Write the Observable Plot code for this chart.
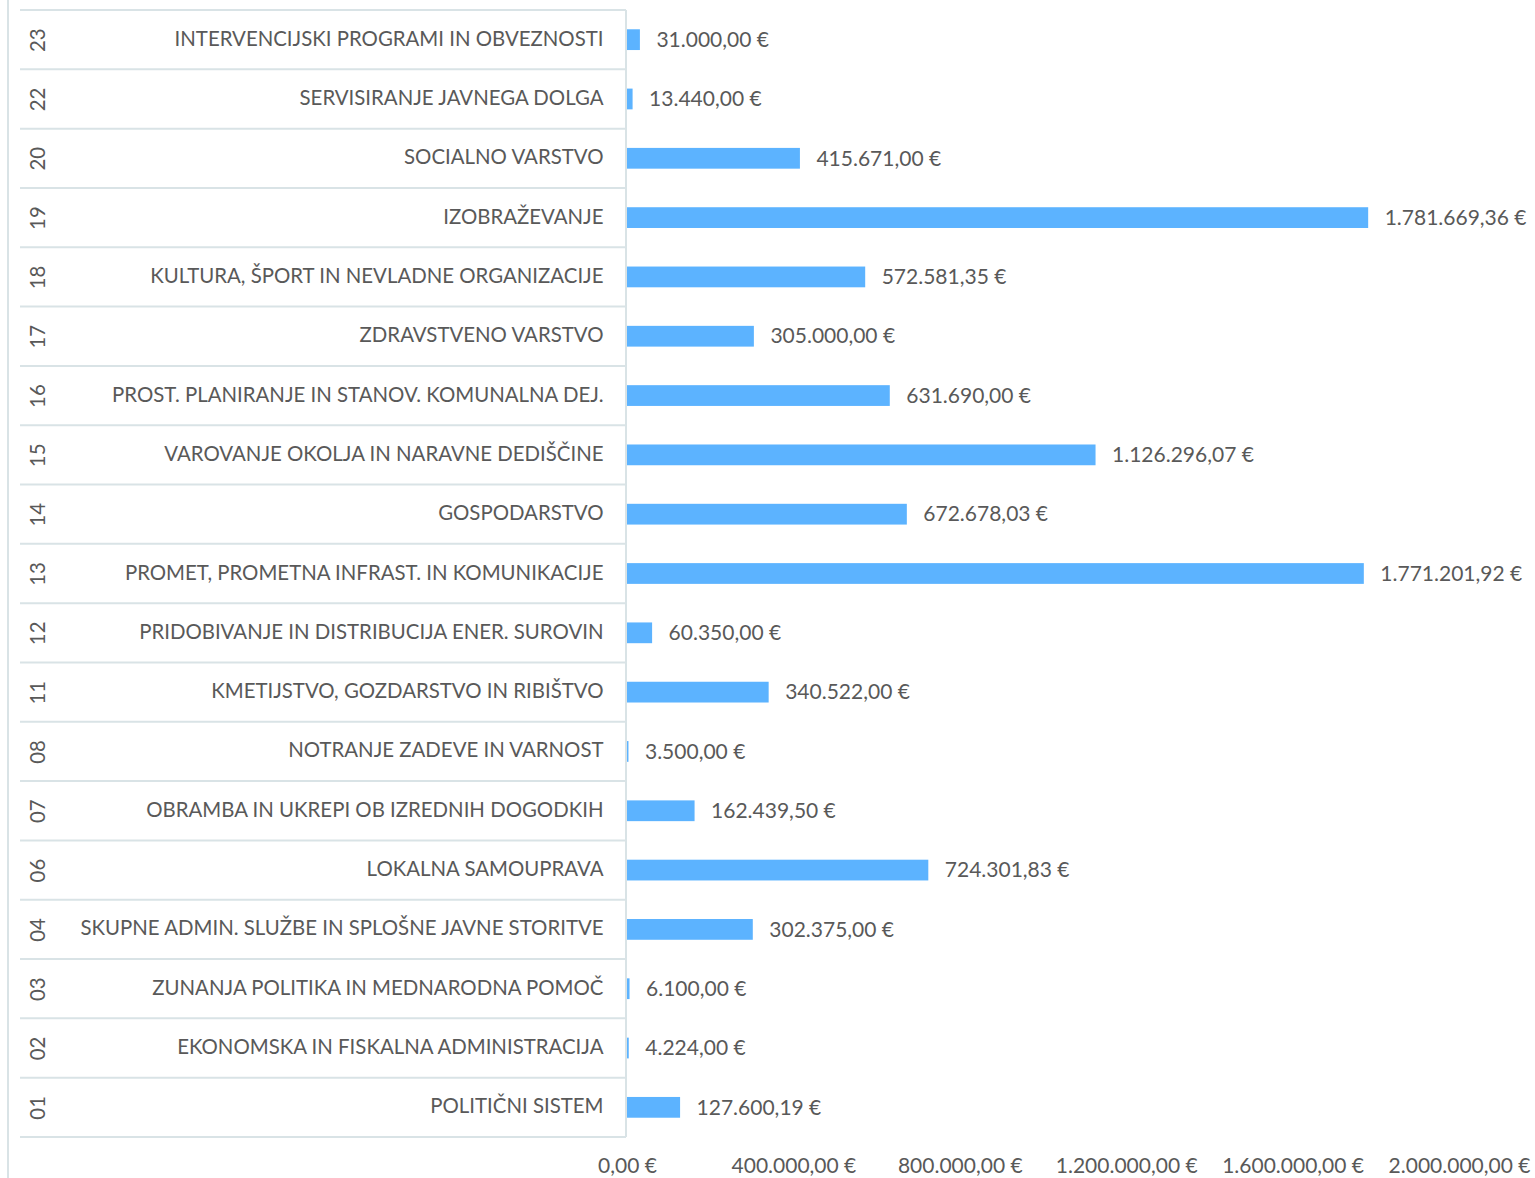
<!DOCTYPE html>
<html>
<head>
<meta charset="utf-8">
<script src="https://cdn.jsdelivr.net/npm/d3@7"></script>
<script src="https://cdn.jsdelivr.net/npm/@observablehq/plot@0.6"></script>
<style>
  html, body { margin: 0; padding: 0; background: #fff; }
</style>
</head>
<body>
<div id="chart"></div>
<script>
const codes = ["23","22","20","19","18","17","16","15","14","13","12","11","08","07","06","04","03","02","01"];
const names = [
  "INTERVENCIJSKI PROGRAMI IN OBVEZNOSTI",
  "SERVISIRANJE JAVNEGA DOLGA",
  "SOCIALNO VARSTVO",
  "IZOBRAŽEVANJE",
  "KULTURA, ŠPORT IN NEVLADNE ORGANIZACIJE",
  "ZDRAVSTVENO VARSTVO",
  "PROST. PLANIRANJE IN STANOV. KOMUNALNA DEJ.",
  "VAROVANJE OKOLJA IN NARAVNE DEDIŠČINE",
  "GOSPODARSTVO",
  "PROMET, PROMETNA INFRAST. IN KOMUNIKACIJE",
  "PRIDOBIVANJE IN DISTRIBUCIJA ENER. SUROVIN",
  "KMETIJSTVO, GOZDARSTVO IN RIBIŠTVO",
  "NOTRANJE ZADEVE IN VARNOST",
  "OBRAMBA IN UKREPI OB IZREDNIH DOGODKIH",
  "LOKALNA SAMOUPRAVA",
  "SKUPNE ADMIN. SLUŽBE IN SPLOŠNE JAVNE STORITVE",
  "ZUNANJA POLITIKA IN MEDNARODNA POMOČ",
  "EKONOMSKA IN FISKALNA ADMINISTRACIJA",
  "POLITIČNI SISTEM"
];
const values = [31000.00, 13440.00, 415671.00, 1781669.36, 572581.35, 305000.00, 631690.00, 1126296.07, 672678.03, 1771201.92, 60350.00, 340522.00, 3500.00, 162439.50, 724301.83, 302375.00, 6100.00, 4224.00, 127600.19];
const xTicks = [0, 400000, 800000, 1200000, 1600000, 2000000];

const data = codes.map((c, i) => ({code: c, name: names[i], value: values[i]}));

const loc = d3.formatLocale({decimal: ",", thousands: ".", grouping: [3], currency: ["", " €"]});
const fmt = loc.format(",.2f");
const eur = v => fmt(v) + " €";

const textColor = "#595959";
const lineColor = "#D9E3E6";
const FONT = "Lato, 'Open Sans', sans-serif";

const chart = Plot.plot({
  width: 1535,
  height: 1178,
  marginLeft: 627,
  marginRight: 76,
  marginTop: 10,
  marginBottom: 41,
  style: {fontFamily: FONT, fontSize: "21px", color: textColor, background: "#fff"},
  x: {domain: [0, 2000000], ticks: xTicks, tickFormat: eur, tickSize: 0, tickPadding: 21, label: null},
  y: {domain: codes, paddingInner: 0.65, paddingOuter: 0.325, round: false, axis: null},
  marks: [
    Plot.barX(data, {x: "value", y: "code", fill: "#5CB3FF"}),
    Plot.text(data, {x: "value", y: "code", text: d => eur(d.value), textAnchor: "start", dx: 16, dy: 0, fill: textColor, fontSize: 21}),
    Plot.text(data, {x: () => 0, y: "code", text: "name", textAnchor: "end", dx: -24, dy: -1, fill: textColor, fontSize: 20.4}),
    Plot.text(data, {x: () => 0, y: "code", text: "code", rotate: -90, dx: -589, fill: textColor, fontSize: 20.4})
  ]
});

// grid lines for category rows, using the chart's own scales
const ys = chart.scale("y");
const xs = chart.scale("x");
const half = (ys.step - ys.bandwidth) / 2;
const svg = d3.select(chart);
const g = svg.insert("g", ":first-child").attr("stroke", lineColor).attr("stroke-width", 2);
const x0 = xs.apply(0);
const bounds = codes.map(c => ys.apply(c) - half);
bounds.push(ys.apply(codes[codes.length - 1]) + ys.bandwidth + half);
bounds.forEach(b => {
  g.append("line").attr("x1", 20).attr("x2", x0 - 1).attr("y1", b).attr("y2", b);
});
g.append("line").attr("x1", x0 - 1).attr("x2", x0 - 1).attr("y1", bounds[0]).attr("y2", bounds[bounds.length - 1]);
g.append("line").attr("x1", 8).attr("x2", 8).attr("y1", 0).attr("y2", 1178);

document.getElementById("chart").appendChild(chart);
</script>
</body>
</html>
